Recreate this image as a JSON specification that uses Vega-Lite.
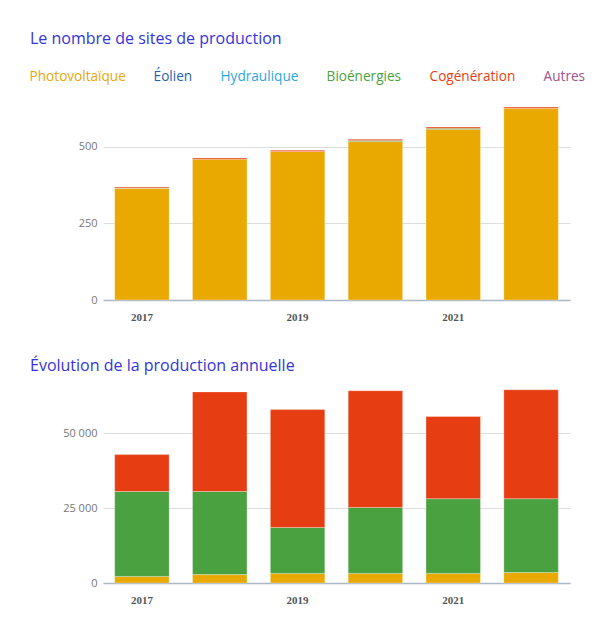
{
  "$schema": "https://vega.github.io/schema/vega-lite/v6.json",
  "background": "white",
  "padding": {"left": 16, "top": 31, "right": 10, "bottom": 5},
  "spacing": 36,
  "datasets": {
    "sites": [
      {"annee": "2017", "filiere": "Photovoltaïque", "rang": 1, "valeur": 365},
      {"annee": "2017", "filiere": "Bioénergies", "rang": 4, "valeur": 1},
      {"annee": "2017", "filiere": "Cogénération", "rang": 5, "valeur": 3},
      {"annee": "2018", "filiere": "Photovoltaïque", "rang": 1, "valeur": 460},
      {"annee": "2018", "filiere": "Cogénération", "rang": 5, "valeur": 4},
      {"annee": "2019", "filiere": "Photovoltaïque", "rang": 1, "valeur": 485},
      {"annee": "2019", "filiere": "Cogénération", "rang": 5, "valeur": 4},
      {"annee": "2020", "filiere": "Photovoltaïque", "rang": 1, "valeur": 518},
      {"annee": "2020", "filiere": "Bioénergies", "rang": 4, "valeur": 3},
      {"annee": "2020", "filiere": "Cogénération", "rang": 5, "valeur": 4},
      {"annee": "2021", "filiere": "Photovoltaïque", "rang": 1, "valeur": 558},
      {"annee": "2021", "filiere": "Bioénergies", "rang": 4, "valeur": 3},
      {"annee": "2021", "filiere": "Cogénération", "rang": 5, "valeur": 4},
      {"annee": "2022", "filiere": "Photovoltaïque", "rang": 1, "valeur": 626},
      {"annee": "2022", "filiere": "Cogénération", "rang": 5, "valeur": 4}
    ],
    "production": [
      {"annee": "2017", "filiere": "Photovoltaïque", "rang": 1, "valeur": 2200},
      {"annee": "2017", "filiere": "Bioénergies", "rang": 4, "valeur": 28300},
      {"annee": "2017", "filiere": "Cogénération", "rang": 5, "valeur": 12300},
      {"annee": "2018", "filiere": "Photovoltaïque", "rang": 1, "valeur": 2800},
      {"annee": "2018", "filiere": "Bioénergies", "rang": 4, "valeur": 27700},
      {"annee": "2018", "filiere": "Cogénération", "rang": 5, "valeur": 33200},
      {"annee": "2019", "filiere": "Photovoltaïque", "rang": 1, "valeur": 3200},
      {"annee": "2019", "filiere": "Bioénergies", "rang": 4, "valeur": 15300},
      {"annee": "2019", "filiere": "Cogénération", "rang": 5, "valeur": 39300},
      {"annee": "2020", "filiere": "Photovoltaïque", "rang": 1, "valeur": 3200},
      {"annee": "2020", "filiere": "Bioénergies", "rang": 4, "valeur": 22000},
      {"annee": "2020", "filiere": "Cogénération", "rang": 5, "valeur": 38900},
      {"annee": "2021", "filiere": "Photovoltaïque", "rang": 1, "valeur": 3200},
      {"annee": "2021", "filiere": "Bioénergies", "rang": 4, "valeur": 24900},
      {"annee": "2021", "filiere": "Cogénération", "rang": 5, "valeur": 27400},
      {"annee": "2022", "filiere": "Photovoltaïque", "rang": 1, "valeur": 3500},
      {"annee": "2022", "filiere": "Bioénergies", "rang": 4, "valeur": 24600},
      {"annee": "2022", "filiere": "Cogénération", "rang": 5, "valeur": 36300}
    ]
  },
  "config": {
    "view": {"stroke": null},
    "font": "Open Sans",
    "title": {"anchor": "start", "frame": "group", "fontSize": 16, "fontWeight": "normal", "color": "#3434da", "font": "Open Sans", "dx": -73},
    "axisX": {"labelAngle": 0, "labelFont": "Liberation Serif", "labelFontWeight": "bold", "labelFontSize": 11, "labelColor": "#555555", "ticks": false, "domainColor": "#a9b8c8", "domainWidth": 1.5, "title": null, "labelPadding": 11, "grid": false},
    "axisY": {"domain": false, "ticks": false, "gridColor": "#dddddd", "labelColor": "#777777", "labelFontSize": 11, "labelPadding": 6, "labelFont": "Open Sans", "title": null}
  },
  "resolve": {"scale": {"color": "shared"}},
  "vconcat": [
    {
      "title": {"text": "Le nombre de sites de production", "offset": 54},
      "width": 467,
      "height": 199,
      "data": {"name": "sites"},
      "mark": {"type": "bar", "stroke": "#ffffff", "strokeWidth": 0.6, "strokeOpacity": 0.5},
      "encoding": {
        "x": {"field": "annee", "type": "ordinal", "scale": {"paddingInner": 0.3, "paddingOuter": 0.15}, "axis": {"labelExpr": "(+datum.value) % 2 == 1 ? datum.label : ''"}},
        "y": {"field": "valeur", "type": "quantitative", "stack": "zero", "scale": {"domain": [0, 650]}, "axis": {"values": [0, 250, 500]}},
        "order": {"field": "rang", "type": "quantitative", "sort": "ascending"},
        "color": {
          "field": "filiere", "type": "nominal",
          "scale": {"domain": ["Photovoltaïque", "Éolien", "Hydraulique", "Bioénergies", "Cogénération", "Autres"], "range": ["#eaa900", "#1f64b0", "#2aa8e0", "#4aa140", "#e63e12", "#a0508c"]},
          "legend": {"orient": "none", "legendX": -87, "legendY": -31, "direction": "horizontal", "title": null, "symbolSize": 0, "symbolOpacity": 0, "symbolStrokeWidth": 0, "labelOffset": 0, "columnPadding": 14, "labelFontSize": 13.6, "labelFont": "Open Sans",
            "labelColor": {"expr": "scale('color', datum.value)"}}
        }
      }
    },
    {
      "title": {"text": "Évolution de la production annuelle", "offset": 11},
      "width": 467,
      "height": 198,
      "data": {"name": "production"},
      "mark": {"type": "bar", "stroke": "#ffffff", "strokeWidth": 0.6, "strokeOpacity": 0.5},
      "encoding": {
        "x": {"field": "annee", "type": "ordinal", "scale": {"paddingInner": 0.3, "paddingOuter": 0.15}, "axis": {"labelExpr": "(+datum.value) % 2 == 1 ? datum.label : ''"}},
        "y": {"field": "valeur", "type": "quantitative", "stack": "zero", "scale": {"domain": [0, 66000]}, "axis": {"values": [0, 25000, 50000], "labelExpr": "replace(format(datum.value, ','), ',', ' ')"}},
        "order": {"field": "rang", "type": "quantitative", "sort": "ascending"},
        "color": {"field": "filiere", "type": "nominal", "legend": null}
      }
    }
  ]
}
